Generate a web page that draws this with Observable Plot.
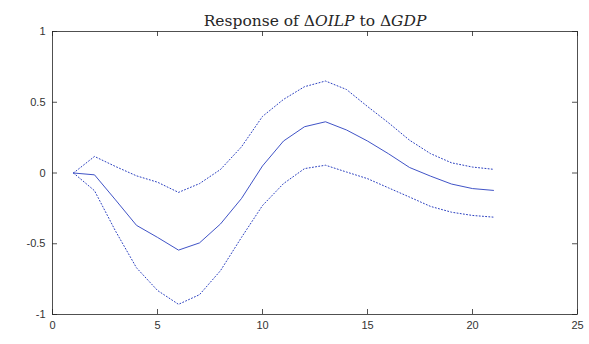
<!DOCTYPE html>
<html>
<head>
<meta charset="utf-8">
<script src="https://cdn.jsdelivr.net/npm/d3@7"></script>
<script src="https://cdn.jsdelivr.net/npm/@observablehq/plot@0.6"></script>
<style>
  html, body { margin: 0; padding: 0; background: #fff; }
  #chart svg { display: block; }
</style>
</head>
<body>
<div id="chart"></div>
<script>
// Impulse response horizon (periods)
const horizon = [1, 2, 3, 4, 5, 6, 7, 8, 9, 10, 11, 12, 13, 14, 15, 16, 17, 18, 19, 20, 21];
// Point estimate of the response
const response = [0, -0.013, -0.19, -0.37, -0.455, -0.545, -0.494, -0.36, -0.18, 0.05, 0.226, 0.327, 0.362, 0.304, 0.226, 0.136, 0.039, -0.022, -0.078, -0.11, -0.123];
// Upper and lower confidence bands
const upperBand = [0, 0.117, 0.046, -0.02, -0.065, -0.137, -0.075, 0.025, 0.185, 0.40, 0.52, 0.61, 0.65, 0.59, 0.47, 0.355, 0.232, 0.137, 0.072, 0.042, 0.026];
const lowerBand = [0, -0.125, -0.41, -0.67, -0.83, -0.928, -0.86, -0.69, -0.455, -0.23, -0.075, 0.031, 0.055, 0.007, -0.04, -0.105, -0.17, -0.236, -0.277, -0.30, -0.312];
// Axis ticks
const xTicks = [0, 5, 10, 15, 20, 25];
const yTicks = [-1, -0.5, 0, 0.5, 1];
const yTickLabels = ["-1", "-0.5", "0", "0.5", "1"];

const rows = horizon.map((h, i) => ({h, mid: response[i], hi: upperBand[i], lo: lowerBand[i]}));

const W = 589, H = 344;
const mL = 52, mR = 12, mT = 31, mB = 30;
const frameW = W - mL - mR, frameH = H - mT - mB;
const tickLen = 5;
const axisColor = "#262626";
const labelColor = "#333";
const lineColor = "#2a3fc0";
const sans = "'Liberation Sans', Arial, Helvetica, sans-serif";

const chart = Plot.plot({
  width: W,
  height: H,
  marginLeft: mL,
  marginRight: mR,
  marginTop: mT,
  marginBottom: mB,
  style: {fontFamily: sans, fontSize: "11px", color: labelColor, background: "#fff"},
  x: {domain: [0, 25]},
  y: {domain: [-1, 1]},
  marks: [
    // inward ticks on all four sides (box on)
    Plot.tickX(xTicks, {x: d => d, insetTop: frameH - tickLen, stroke: axisColor, strokeWidth: 0.8}),
    Plot.tickX(xTicks, {x: d => d, insetBottom: frameH - tickLen, stroke: axisColor, strokeWidth: 0.8}),
    Plot.tickY(yTicks, {y: d => d, insetRight: frameW - tickLen, stroke: axisColor, strokeWidth: 0.8}),
    Plot.tickY(yTicks, {y: d => d, insetLeft: frameW - tickLen, stroke: axisColor, strokeWidth: 0.8}),
    Plot.axisX(xTicks, {tickSize: 0, tickPadding: 7, label: null, fontSize: 11, fontFamily: sans, fill: labelColor}),
    Plot.axisY(yTicks, {tickSize: 0, tickPadding: 7, label: null, fontSize: 11, fontFamily: sans, fill: labelColor,
      tickFormat: (d) => yTickLabels[yTicks.indexOf(d)]}),
    Plot.frame({stroke: axisColor, strokeWidth: 0.8}),
    // confidence bands
    Plot.line(rows, {x: "h", y: "hi", stroke: lineColor, strokeWidth: 1, strokeDasharray: "1,2.2"}),
    Plot.line(rows, {x: "h", y: "lo", stroke: lineColor, strokeWidth: 1, strokeDasharray: "1,2.2"}),
    // point estimate
    Plot.line(rows, {x: "h", y: "mid", stroke: lineColor, strokeWidth: 0.9}),
    // title
    Plot.text(["Response of ΔOILP to ΔGDP"], {frameAnchor: "top", lineAnchor: "bottom", dy: -6, fontSize: 15.5,
      fontFamily: "'DejaVu Serif', 'Liberation Serif', serif", fill: "#262626", className: "plot-title"})
  ]
});

// Typeset the title with italic math variables
const titleText = chart.querySelector(".plot-title text");
if (titleText) {
  const parts = [["Response of Δ", "normal"], ["OILP", "italic"], [" to Δ", "normal"], ["GDP", "italic"]];
  titleText.textContent = "";
  for (const [s, st] of parts) {
    const t = document.createElementNS("http://www.w3.org/2000/svg", "tspan");
    t.textContent = s;
    t.setAttribute("font-style", st);
    titleText.appendChild(t);
  }
}

document.getElementById("chart").appendChild(chart);
</script>
</body>
</html>
